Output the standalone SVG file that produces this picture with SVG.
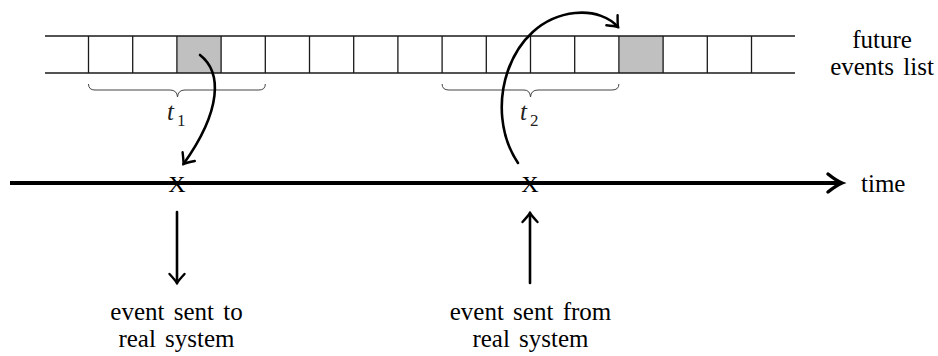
<svg xmlns="http://www.w3.org/2000/svg" width="938" height="356" viewBox="0 0 938 356">
<rect width="938" height="356" fill="#fff"/>
<g id="list">
<rect fill="#c0c0c0" x="177" y="36" width="44.2" height="37"/>
<rect fill="#c0c0c0" x="619" y="36" width="44.2" height="37"/>
<g stroke="#1a1a1a" stroke-width="1.3" fill="none">
<line x1="45" y1="36" x2="795" y2="36"/>
<line x1="45" y1="73" x2="795" y2="73"/>
<path d="M88.5,36V73M132.7,36V73M176.9,36V73M221.1,36V73M265.3,36V73M309.5,36V73M353.7,36V73M397.9,36V73M442.1,36V73M486.3,36V73M530.5,36V73M574.7,36V73M618.9,36V73M663.1,36V73M707.3,36V73M751.5,36V73"/>
</g>
<text x="882" y="48" text-anchor="middle" style="font-family:'Times New Roman';font-size:25px">future</text>
<text x="882" y="75" text-anchor="middle" style="font-family:'Times New Roman';font-size:25px;word-spacing:3px">events list</text>
</g>
<g id="brace1">
<path stroke="#444" stroke-width="1" fill="none" d="M88.5,84 Q88.5,90 95,90 L170,90 Q177,90 177.5,97 Q178,90 185,90 L259,90 Q265.3,90 265.3,84"/>
<text x="167" y="120" style="font-family:'Times New Roman';font-style:italic;font-size:25px;fill:#222">t</text>
<text x="177" y="126" style="font-family:'Times New Roman';font-size:17px;fill:#222">1</text>
</g>
<g id="brace2">
<path stroke="#444" stroke-width="1" fill="none" d="M442.1,84 Q442.1,90 449,90 L524,90 Q530,90 530.5,97 Q531,90 538,90 L612,90 Q618.9,90 618.9,84"/>
<text x="520" y="120" style="font-family:'Times New Roman';font-style:italic;font-size:25px;fill:#222">t</text>
<text x="530" y="126" style="font-family:'Times New Roman';font-size:17px;fill:#222">2</text>
</g>
<g id="timeline">
<line x1="10" y1="183" x2="840" y2="183" stroke="#000" stroke-width="4.2"/>
<path d="M828,174 Q836,180.5 842,183 Q836,185.5 828,192" stroke="#000" stroke-width="3.5" fill="none" stroke-linecap="round"/>
<text x="861" y="192" style="font-family:'Times New Roman';font-size:25px">time</text>
<text x="177" y="192" text-anchor="middle" style="font-family:'Times New Roman';font-size:24px">X</text>
<text x="530" y="192" text-anchor="middle" style="font-family:'Times New Roman';font-size:24px">X</text>
</g>
<g id="sent">
<text x="176.5" y="320" text-anchor="middle" style="font-family:'Times New Roman';font-size:25px;word-spacing:3px">event sent to</text>
<text x="176.5" y="347" text-anchor="middle" style="font-family:'Times New Roman';font-size:25px;word-spacing:3px">real system</text>
</g>
<g id="from">
<text x="530.5" y="320" text-anchor="middle" style="font-family:'Times New Roman';font-size:25px;word-spacing:3px">event sent from</text>
<text x="530.5" y="347" text-anchor="middle" style="font-family:'Times New Roman';font-size:25px;word-spacing:3px">real system</text>
</g>
<g id="connectors" stroke="#000" stroke-width="2.6" fill="none" stroke-linecap="round">
<path d="M200,55 C222,72 222,110 183.5,164"/>
<path stroke-width="2.4" d="M194.8,161 Q186.9,162.7 183.5,164 Q183.6,160.4 182.6,152.3"/>
<path d="M518,163 C482,110 508,20 575,13 C595,11 610,18 618,27"/>
<path stroke-width="2.4" d="M606.4,25.3 Q614.5,26.1 618,27 Q617.5,23.5 617.6,15.3"/>
<path d="M177,212 V283"/>
<path stroke-width="2.4" d="M169.5,274 Q175,280 177,283 Q179,280 184.5,274"/>
<path d="M530,283 V213"/>
<path stroke-width="2.4" d="M522.5,222 Q528,216 530,213 Q532,216 537.5,222"/>
</g>
</svg>
